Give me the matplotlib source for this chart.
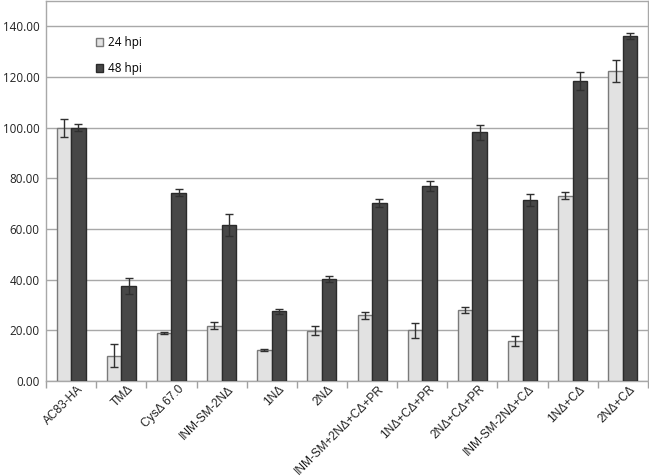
import matplotlib
matplotlib.use("Agg")
import matplotlib.pyplot as plt
import matplotlib.transforms as mtrans
import numpy as np

categories = ["AC83-HA", "TMΔ", "CysΔ 67.0", "INM-SM-2NΔ", "1NΔ", "2NΔ",
              "INM-SM+2NΔ+CΔ+PR", "1NΔ+CΔ+PR", "2NΔ+CΔ+PR", "INM-SM-2NΔ+CΔ",
              "1NΔ+CΔ", "2NΔ+CΔ"]
hpi24 = [100.0, 10.0, 19.0, 21.8, 12.1, 19.8, 25.9, 20.0, 28.0, 15.7, 73.2, 122.4]
hpi24_err = [3.5, 4.6, 0.4, 1.3, 0.4, 1.8, 1.5, 2.9, 1.1, 1.9, 1.3, 4.5]
hpi48 = [100.0, 37.5, 74.3, 61.6, 27.5, 40.3, 70.2, 77.0, 98.1, 71.4, 118.4, 136.3]
hpi48_err = [1.5, 3.0, 1.4, 4.4, 1.0, 1.2, 1.7, 2.0, 3.1, 2.4, 3.4, 1.2]
yticks = [0, 20, 40, 60, 80, 100, 120, 140]

fig = plt.figure(figsize=(6.49, 4.76), dpi=100)
ax = fig.add_axes([46/649, 1 - 381/476, (648-46)/649, (381-1)/476])

x = np.arange(len(categories))
w = 0.29
ekw = dict(ecolor="#303030", elinewidth=1.0, capsize=3, capthick=1.0)
ax.bar(x - w/2, hpi24, w, color="#e2e2e2", edgecolor="#7a7a7a", linewidth=1.0,
       yerr=hpi24_err, error_kw=ekw, label="24 hpi", zorder=3)
ax.bar(x + w/2, hpi48, w, color="#474747", edgecolor="#2a2a2a", linewidth=1.0,
       yerr=hpi48_err, error_kw=ekw, label="48 hpi", zorder=3)

ax.set_xlim(-0.5, len(categories) - 0.5)
ax.set_ylim(0, 150)
ax.set_yticks(yticks)
ax.set_yticklabels([f"{v:.2f}" for v in yticks], fontsize=8.4, family="Open Sans", color="#222222")
ax.yaxis.grid(True, color="#a8a8a8", linewidth=1.0, zorder=0)
ax.tick_params(axis="y", length=0, pad=4.5)

ax.set_xticks(x)
ax.set_xticklabels(categories, rotation=45, ha="right", rotation_mode="anchor",
                   fontsize=8.6, family="Liberation Sans", color="#222222")
ax.tick_params(axis="x", length=0, pad=3)
off = mtrans.ScaledTranslation(6/100, 2/100, fig.dpi_scale_trans)
for lbl in ax.get_xticklabels():
    lbl.set_transform(lbl.get_transform() + off)
ax.set_xticks(np.arange(-0.5, len(categories) + 0.5, 1), minor=True)
ax.tick_params(axis="x", which="minor", length=5, color="#a0a0a0", width=1)

for s in ax.spines.values():
    s.set_color("#a8a8a8")
    s.set_linewidth(1.0)

leg = ax.legend(loc="upper left", bbox_to_anchor=(0.065, 0.935), frameon=False,
                handlelength=0.65, handleheight=0.65, handletextpad=0.35,
                labelspacing=1.05, prop={"family": "Open Sans", "size": 8.5})

fig.savefig("out.png", dpi=100)
